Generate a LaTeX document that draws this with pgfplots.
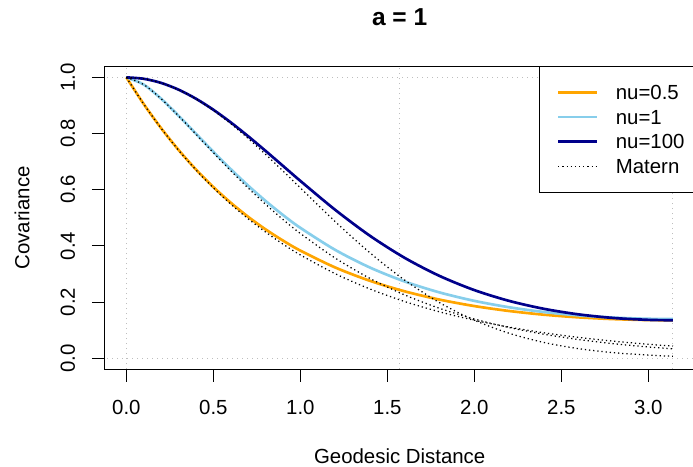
\documentclass[border=0pt]{standalone}
\usepackage{fontspec}
\setmainfont{Liberation Sans}
\usepackage{pgfplots}
\pgfplotsset{compat=1.18}
\definecolor{rorange}{HTML}{FFA500}
\definecolor{rskyblue}{HTML}{87CEEB}
\definecolor{rdarkblue}{HTML}{00008B}
\definecolor{rgray}{HTML}{BEBEBE}
\newcommand{\lbl}{\fontsize{12.24}{14}\selectfont}
\begin{document}
\begin{tikzpicture}
\useasboundingbox (-62.7pt,-58.5pt) rectangle (353.1pt,221.7pt);
\begin{axis}[
  at={(0pt,0pt)}, anchor=south west,
  scale only axis, width=354.2pt, height=182.0pt,
  xmin=-0.12566, xmax=3.26726, ymin=-0.04, ymax=1.04,
  xtick={0,0.5,1,1.5,2,2.5,3},
  ytick={0,0.2,0.4,0.6,0.8,1},
  tick pos=left, tick align=outside,
  major tick length=7.5pt,
  tick style={black, line width=0.6pt},
  axis line style={black, line width=0.6pt},
  /pgf/number format/assume math mode=true,
  /pgf/number format/.cd, fixed, fixed zerofill, precision=1, /pgfplots/.cd,
  ticklabel style={font=\lbl, inner sep=0pt},
  xticklabel style={anchor=north, yshift=-10.6pt},
  yticklabel style={xshift=-10pt, rotate=90, anchor=south},
  xlabel={Geodesic Distance},
  ylabel={Covariance},
  xlabel style={font=\lbl, inner sep=0pt, at={([yshift=-51.9pt]axis description cs:0.5,0)}, anchor=center},
  ylabel style={font=\lbl, inner sep=0pt, at={([xshift=-49.5pt]axis description cs:0,0.5)}, anchor=center},
  title={a = 1},
  title style={font=\fontsize{14.7}{17}\selectfont\bfseries, inner sep=0pt, yshift=-6pt, at={([yshift=29.2pt]axis description cs:0.5,1)}, anchor=center},
  legend style={at={(1,1)}, anchor=north east, draw=black, line width=0.6pt, fill=white,
    inner xsep=5.9pt, inner ysep=11.2pt, row sep=5.1pt, column sep=10.8pt,
    nodes={inner sep=0pt, text height=8.8pt, text depth=0pt, anchor=base west}, font=\lbl},
  legend cell align=left,
  legend image code/.code={\path (0pt,0pt); \draw[#1] (4.5pt,4.4pt) -- (27.5pt,4.4pt);},
]
% reference lines
\addplot[rgray, line width=0.6pt, dash pattern=on 0.6pt off 2.4pt, forget plot] coordinates {(-1,0) (4,0)};
\addplot[rgray, line width=0.6pt, dash pattern=on 0.6pt off 2.4pt, forget plot] coordinates {(-1,1) (4,1)};
\addplot[rgray, line width=0.6pt, dash pattern=on 0.6pt off 2.4pt, forget plot] coordinates {(0,-1) (0,2)};
\addplot[rgray, line width=0.6pt, dash pattern=on 0.6pt off 2.4pt, forget plot] coordinates {(1.5708,-1) (1.5708,2)};
\addplot[rgray, line width=0.6pt, dash pattern=on 0.6pt off 2.4pt, forget plot] coordinates {(3.1416,-1) (3.1416,2)};
% nu = 0.5
\addplot[rorange, line width=1.6pt, smooth] coordinates {
 (0,1) (0.1,0.90488) (0.2,0.81900) (0.3,0.74165) (0.4,0.67210) (0.5,0.60969) (0.6,0.55374)
 (0.7,0.50369) (0.8,0.45894) (0.9,0.41898) (1.0,0.38334) (1.2,0.32326) (1.4,0.27571)
 (1.6,0.23818) (1.8,0.20875) (2.0,0.18583) (2.2,0.16824) (2.4,0.15505) (2.6,0.14557)
 (2.8,0.13934) (3.0,0.13602) (3.1416,0.13534)};
\addlegendentry{nu=0.5}
% nu = 1
\addplot[rskyblue, line width=1.6pt, smooth] coordinates {
 (0,1) (0.1,0.97421) (0.2,0.92398) (0.3,0.86358) (0.4,0.79946) (0.5,0.73531) (0.6,0.67329)
 (0.7,0.61468) (0.8,0.56016) (0.9,0.51004) (1.0,0.46437) (1.2,0.38590) (1.4,0.32295)
 (1.6,0.27320) (1.8,0.23433) (2.0,0.20433) (2.2,0.18153) (2.4,0.16460) (2.6,0.15256)
 (2.8,0.14469) (3.0,0.14053) (3.1416,0.13968)};
\addlegendentry{nu=1}
% nu = 100
\addplot[rdarkblue, line width=1.6pt, smooth] coordinates {
 (0,1) (0.1,0.99502) (0.2,0.98026) (0.3,0.95632) (0.4,0.92410) (0.5,0.88478) (0.6,0.83973)
 (0.7,0.79045) (0.8,0.73838) (0.9,0.68496) (1.0,0.63147) (1.2,0.52854) (1.4,0.43603)
 (1.6,0.35729) (1.8,0.29311) (2.0,0.24265) (2.2,0.20423) (2.4,0.17598) (2.6,0.15616)
 (2.8,0.14338) (3.0,0.13670) (3.1416,0.13534)};
\addlegendentry{nu=100}
% Matern curves
\addplot[black, line width=0.75pt, dash pattern=on 0.75pt off 1.75pt, smooth] coordinates {
 (0,1) (0.1,0.90484) (0.2,0.81873) (0.3,0.74082) (0.4,0.67032) (0.5,0.60653) (0.6,0.54881)
 (0.7,0.49659) (0.8,0.44933) (0.9,0.40657) (1.0,0.36788) (1.2,0.30119) (1.4,0.24660)
 (1.6,0.20190) (1.8,0.16530) (2.0,0.13534) (2.2,0.11080) (2.4,0.09072) (2.6,0.07427)
 (2.8,0.06081) (3.0,0.04979) (3.1416,0.04321)};
\addlegendentry{Matern}
\addplot[black, line width=0.75pt, dash pattern=on 0.75pt off 1.75pt, smooth, forget plot] coordinates {
 (0,1) (0.1,0.97419) (0.2,0.92378) (0.3,0.86286) (0.4,0.79771) (0.5,0.73191) (0.6,0.66763)
 (0.7,0.60615) (0.8,0.54822) (0.9,0.49423) (1.0,0.44434) (1.2,0.35675) (1.4,0.28434)
 (1.6,0.22534) (1.8,0.17775) (2.0,0.13968) (2.2,0.10940) (2.4,0.08543) (2.6,0.06657)
 (2.8,0.05176) (3.0,0.04017) (3.1416,0.03354)};
\addplot[black, line width=0.75pt, dash pattern=on 0.75pt off 1.75pt, smooth, forget plot] coordinates {
 (0,1) (0.1,0.99501) (0.2,0.98020) (0.3,0.95600) (0.4,0.92312) (0.5,0.88250) (0.6,0.83527)
 (0.7,0.78271) (0.8,0.72615) (0.9,0.66698) (1.0,0.60653) (1.2,0.48675) (1.4,0.37531)
 (1.6,0.27804) (1.8,0.19790) (2.0,0.13534) (2.2,0.08892) (2.4,0.05613) (2.6,0.03405)
 (2.8,0.01984) (3.0,0.01111) (3.1416,0.00719)};
\end{axis}
\end{tikzpicture}
\end{document}
